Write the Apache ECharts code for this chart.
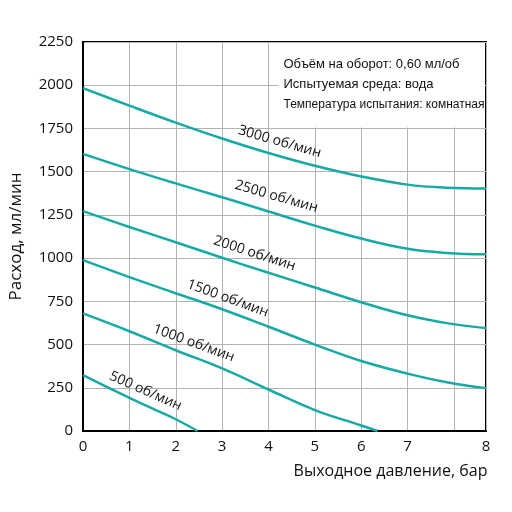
<!DOCTYPE html>
<html>
<head>
<meta charset="utf-8">
<script src="https://cdn.jsdelivr.net/npm/echarts@6/dist/echarts.min.js"></script>
<style>
  html, body { margin: 0; padding: 0; background: #fff; }
  #chart { width: 512px; height: 512px; }
</style>
</head>
<body>
<div id="chart"></div>
<script>
// расход (мл/мин) по выходному давлению (бар), для каждой скорости
const rpm3000 = [[0, 1983], [1, 1882], [2, 1784], [3, 1692], [4, 1608], [5, 1534], [6, 1472], [7, 1425], [7.5, 1407], [8, 1402]]
const rpm2500 = [[0, 1603], [1, 1515], [2, 1432], [3, 1352], [4, 1270], [5, 1188], [6, 1113], [7, 1054], [7.5, 1030], [8, 1022]]
const rpm2000 = [[0, 1272], [1, 1180], [2, 1092], [3, 1002], [4, 915], [5, 830], [6, 745], [7, 669], [7.5, 624], [8, 595]]
const rpm1500 = [[0, 988], [1, 890], [2, 797], [3, 704], [4, 603], [5, 500], [6, 405], [7, 332], [7.5, 282], [8, 248]]
const rpm1000 = [[0, 680], [1, 577], [2, 467], [3, 362], [4, 240], [5, 121], [6, 32], [6.35, 0]]
const rpm500 = [[0, 323], [0.5, 257], [1, 192], [1.5, 130], [2, 68], [2.47, 0]]

const seriesNames = ['3000 об/мин', '2500 об/мин', '2000 об/мин', '1500 об/мин', '1000 об/мин', '500 об/мин']
const seriesData = [rpm3000, rpm2500, rpm2000, rpm1500, rpm1000, rpm500]

const notes = ['Объём на оборот: 0,60 мл/об', 'Испытуемая среда: вода', 'Температура испытания: комнатная']

// подписи кривых: где стоит центр текста (бар, мл/мин) и наклон в градусах
const labelSpots = [[4.24, 1673, 16], [4.17, 1356, 16], [3.7, 1027, 18], [3.12, 767, 20], [2.39, 508, 20], [1.35, 231, 24]]

// на оригинале участок 7..8 бар растянут
const toAxis = (p) => (p <= 7 ? p : 7 + (p - 7) * 1.69)
const XMAX = toAxis(8)

const teal = '#17aaa5'
const font = 'Open Sans'

const chart = echarts.init(document.getElementById('chart'))

const option = {
  animation: false,
  grid: {
    left: 81,
    right: 26,
    top: 42,
    bottom: 81,
    show: true,
    borderColor: '#000',
    borderWidth: 2,
  },
  xAxis: {
    type: 'value',
    min: 0,
    max: XMAX,
    interval: 1,
    name: 'Выходное давление, бар',
    nameLocation: 'middle',
    nameGap: 32,
    nameTextStyle: { fontFamily: font, fontSize: 16, color: '#111', padding: [0, 0, 0, 212] },
    axisLine: { show: true, lineStyle: { color: '#000', width: 2 } },
    axisTick: { show: false },
    axisLabel: {
      margin: 8,
      fontFamily: font,
      fontSize: 15,
      color: '#111',
      showMaxLabel: true,
      hideOverlap: false,
      formatter: (v) => {
        if (Math.abs(v - XMAX) < 1e-6) return '8'
        if (v > 7) return ''
        return String(v)
      },
    },
    splitLine: { show: true, lineStyle: { color: '#b4b4b4', width: 1 } },
  },
  yAxis: {
    type: 'value',
    min: 0,
    max: 2250,
    interval: 250,
    name: 'Расход, мл/мин',
    nameLocation: 'middle',
    nameRotate: 90,
    nameGap: 58,
    nameTextStyle: { fontFamily: font, fontSize: 17, color: '#111' },
    axisLine: { show: true, lineStyle: { color: '#000', width: 2 } },
    axisTick: { show: false },
    axisLabel: { margin: 10, fontFamily: font, fontSize: 15, color: '#111', formatter: (v) => String(v) },
    splitLine: { show: true, lineStyle: { color: '#b4b4b4', width: 1 } },
  },
  series: seriesData.map((rows, i) => ({
    name: seriesNames[i],
    type: 'line',
    smooth: 0.4,
    showSymbol: false,
    lineStyle: { color: teal, width: 2.5 },
    data: rows.map((r) => [toAxis(r[0]), r[1]]),
    z: 3,
  })),
}

chart.setOption(option)

const px = (p, q) => chart.convertToPixel({ gridIndex: 0 }, [toAxis(p), q])

// белая плашка с условиями испытания
const boxLeft = px(4, 0)[0] + 10
const boxTop = px(0, 2250)[1] + 1
const boxRight = px(8, 0)[0] - 1
const boxBottom = px(0, 1750)[1] - 1

const graphic = [
  {
    type: 'rect',
    z: 2,
    shape: { x: boxLeft, y: boxTop, width: boxRight - boxLeft, height: boxBottom - boxTop },
    style: { fill: '#fff' },
  },
]

notes.forEach((t, i) => {
  graphic.push({
    type: 'text',
    z: 4,
    x: boxLeft + 5,
    y: boxTop + 21 + i * 20.5,
    style: {
      text: t,
      fontFamily: 'Liberation Sans',
      fontSize: i === 2 ? 12 : 13,
      fill: '#111',
      align: 'left',
      verticalAlign: 'middle',
    },
  })
})

labelSpots.forEach((s, i) => {
  const pos = px(s[0], s[1])
  graphic.push({
    type: 'text',
    z: 4,
    x: pos[0],
    y: pos[1],
    rotation: (-s[2] * Math.PI) / 180,
    style: {
      text: seriesNames[i],
      fontFamily: font,
      fontSize: 14,
      fill: '#111',
      align: 'center',
      verticalAlign: 'middle',
    },
  })
})

chart.setOption({ graphic })

window.addEventListener('resize', function () {
  chart.resize()
})
</script>
</body>
</html>
